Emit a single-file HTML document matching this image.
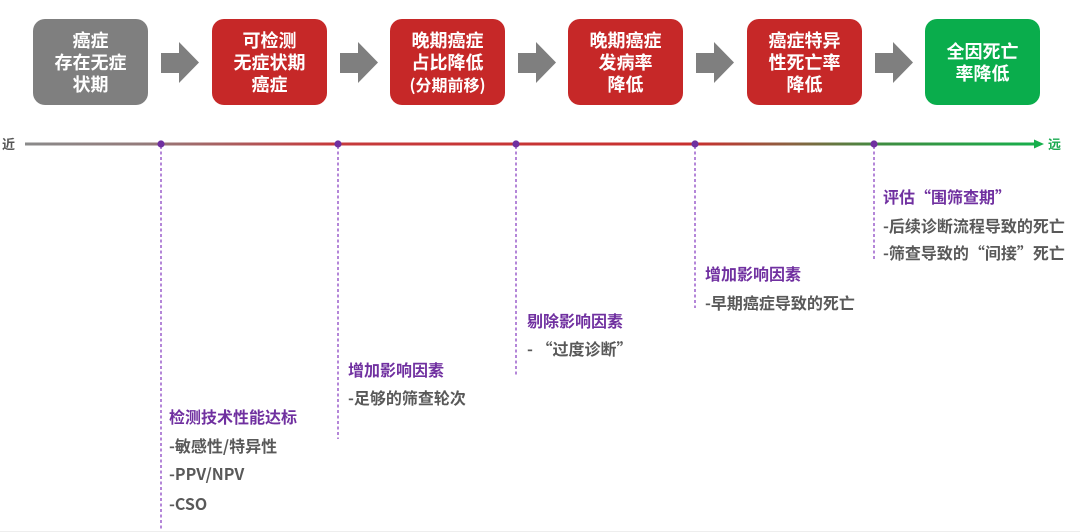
<!DOCTYPE html>
<html><head><meta charset="utf-8">
<style>
html,body{margin:0;padding:0;}
body{width:1080px;height:532px;position:relative;background:#fff;overflow:hidden;
font-family:"Liberation Sans","Noto Sans CJK SC",sans-serif;font-weight:bold;}
.box{position:absolute;top:19px;width:115px;height:86px;border-radius:12px;color:#fff;
display:flex;flex-direction:column;align-items:center;justify-content:center;
font-family:"Noto Sans CJK SC",sans-serif;font-size:18px;line-height:22px;text-align:center;font-weight:bold;}
.g{background:#7f7f7f;} .r{background:#c62828;} .gr{background:#0aad4c;}
.t{position:absolute;white-space:nowrap;font-size:16px;line-height:20px;height:20px;
font-family:"Noto Sans CJK SC",sans-serif;font-weight:bold;}
.h{color:#7030a0;} .i{color:#595959;}
svg{position:absolute;left:0;top:0;}
</style></head><body>
<svg width="1080" height="532" viewBox="0 0 1080 532">
<defs>
<linearGradient id="tl" gradientUnits="userSpaceOnUse" x1="25" y1="0" x2="1043" y2="0">
<stop offset="0" stop-color="#8a8a8a"/>
<stop offset="0.12" stop-color="#947a7a"/>
<stop offset="0.30" stop-color="#c63a3c"/>
<stop offset="0.66" stop-color="#c8302e"/>
<stop offset="0.75" stop-color="#8c6040"/>
<stop offset="0.84" stop-color="#3f8c40"/>
<stop offset="1" stop-color="#16b04c"/>
</linearGradient>
</defs>
<g fill="#7f7f7f">
<polygon points="161,53 179,53 179,42 199,62.5 179,83 179,73 161,73"/>
<polygon points="340,53 358,53 358,42 378,62.5 358,83 358,73 340,73"/>
<polygon points="518,53 536,53 536,42 556,62.5 536,83 536,73 518,73"/>
<polygon points="696,53 714,53 714,42 734,62.5 714,83 714,73 696,73"/>
<polygon points="875,53 893,53 893,42 913,62.5 893,83 893,73 875,73"/>
</g>
<line x1="25" y1="144" x2="1036" y2="144" stroke="url(#tl)" stroke-width="3"/>
<polygon points="1034,139.5 1044,144 1034,148.5" fill="#16b04c"/>
<g stroke="#9b5fcc" stroke-width="1.5" stroke-dasharray="3,2.5">
<line x1="161" y1="146" x2="161" y2="532"/>
<line x1="338" y1="146" x2="338" y2="439"/>
<line x1="516" y1="146" x2="516" y2="375"/>
<line x1="695" y1="146" x2="695" y2="308"/>
<line x1="874" y1="146" x2="874" y2="260"/>
</g>
<g fill="#7030a0">
<circle cx="161" cy="144" r="3.6"/>
<circle cx="338" cy="144" r="3.6"/>
<circle cx="516" cy="144" r="3.6"/>
<circle cx="695" cy="144" r="3.6"/>
<circle cx="874" cy="144" r="3.6"/>
</g>
<line x1="0" y1="531.5" x2="1080" y2="531.5" stroke="#eeeeee" stroke-width="1"/>
</svg>

<div class="box g" style="left:33px;"><div>癌症</div><div>存在无症</div><div>状期</div></div>
<div class="box r" style="left:212px;"><div>可检测</div><div>无症状期</div><div>癌症</div></div>
<div class="box r" style="left:390px;"><div>晚期癌症</div><div>占比降低</div><div style="font-size:16px;">(分期前移)</div></div>
<div class="box r" style="left:568px;"><div>晚期癌症</div><div>发病率</div><div>降低</div></div>
<div class="box r" style="left:747px;"><div>癌症特异</div><div>性死亡率</div><div>降低</div></div>
<div class="box gr" style="left:925px;"><div>全因死亡</div><div>率降低</div></div>

<div class="t i" style="left:2px;top:134px;font-size:13px;color:#555;">近</div>
<div class="t" style="left:1048px;top:134px;font-size:13px;color:#1aaa50;">远</div>

<div class="t h" style="left:169px;top:406px;">检测技术性能达标</div>
<div class="t i" style="left:169px;top:435px;">-敏感性/特异性</div>
<div class="t i" style="left:169px;top:463px;">-PPV/NPV</div>
<div class="t i" style="left:169px;top:493px;">-CSO</div>

<div class="t h" style="left:348px;top:359px;">增加影响因素</div>
<div class="t i" style="left:348px;top:387px;">-足够的筛查轮次</div>

<div class="t h" style="left:527px;top:310px;">剔除影响因素</div>
<div class="t i" style="left:527px;top:338px;">- “过度诊断”</div>

<div class="t h" style="left:705px;top:263px;">增加影响因素</div>
<div class="t i" style="left:705px;top:292px;">-早期癌症导致的死亡</div>

<div class="t h" style="left:883px;top:186px;">评估“围筛查期”</div>
<div class="t i" style="left:883px;top:215px;">-后续诊断流程导致的死亡</div>
<div class="t i" style="left:883px;top:242px;">-筛查导致的“间接”死亡</div>
</body></html>
